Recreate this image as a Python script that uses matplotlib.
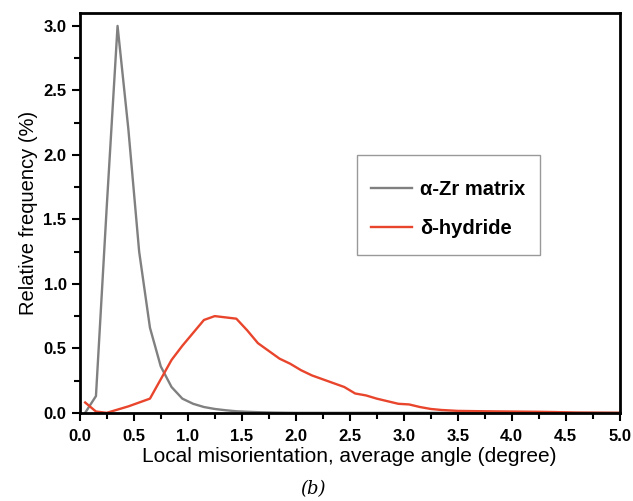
import matplotlib
matplotlib.use("Agg")
import matplotlib.pyplot as plt
from matplotlib.ticker import MultipleLocator
from matplotlib.patches import Rectangle

plt.rcParams['font.family'] = ['Liberation Sans', 'DejaVu Sans']

# alpha-Zr matrix
zr_x = [0.05, 0.15, 0.25, 0.35, 0.45, 0.55, 0.65, 0.75, 0.85, 0.95, 1.05, 1.15,
        1.25, 1.35, 1.45, 1.55, 1.65, 1.8, 2.0, 2.5, 3.0, 4.0, 5.0]
zr_y = [0.0, 0.13, 1.6, 3.0, 2.2, 1.25, 0.66, 0.36, 0.2, 0.11, 0.07, 0.045,
        0.03, 0.02, 0.012, 0.008, 0.005, 0.002, 0.0, 0.0, 0.0, 0.0, 0.0]

# delta-hydride
hy_x = [0.05, 0.15, 0.25, 0.45, 0.65, 0.75, 0.85, 0.95, 1.05, 1.15, 1.25, 1.35,
        1.45, 1.55, 1.65, 1.75, 1.85, 1.95, 2.05, 2.15, 2.25, 2.35, 2.45, 2.55,
        2.65, 2.75, 2.85, 2.95, 3.05, 3.15, 3.25, 3.35, 3.5, 3.75, 4.0, 4.25,
        4.4, 4.6, 5.0]
hy_y = [0.08, 0.01, 0.0, 0.05, 0.11, 0.26, 0.41, 0.52, 0.62, 0.72, 0.75, 0.74,
        0.73, 0.64, 0.54, 0.48, 0.42, 0.38, 0.33, 0.29, 0.26, 0.23, 0.2, 0.15,
        0.135, 0.11, 0.09, 0.07, 0.065, 0.045, 0.03, 0.022, 0.015, 0.012, 0.01,
        0.008, 0.006, 0.002, 0.0]

fig = plt.figure(figsize=(6.33, 5.01), dpi=100)
ax = fig.add_axes([0.126, 0.176, 0.853, 0.798])

ax.plot(zr_x, zr_y, color='#808080', lw=1.7, label='α-Zr matrix')
ax.plot(hy_x, hy_y, color='#e8452c', lw=1.7, label='δ-hydride')

ax.set_xlim(0, 5.0)
ax.set_ylim(0, 3.1)
ax.xaxis.set_major_locator(MultipleLocator(0.5))
ax.xaxis.set_minor_locator(MultipleLocator(0.25))
ax.yaxis.set_major_locator(MultipleLocator(0.5))
ax.yaxis.set_minor_locator(MultipleLocator(0.25))
ax.tick_params(which='major', direction='out', length=6, width=1.5, labelsize=12)
ax.tick_params(axis='x', which='major', pad=6)
ax.tick_params(which='minor', direction='out', length=4, width=1.5)
for lab in ax.get_xticklabels() + ax.get_yticklabels():
    lab.set_fontweight('bold')
for s in ax.spines.values():
    s.set_linewidth(2)

ax.set_xlabel('Local misorientation, average angle (degree)', fontsize=15, labelpad=2)
ax.set_ylabel('Relative frequency (%)', fontsize=14.5, labelpad=4)

# legend box drawn separately (taller than the legend padding gives)
ax.add_patch(Rectangle((0.513, 0.395), 0.339, 0.25, transform=ax.transAxes,
                       facecolor='white', edgecolor='#999999', lw=1, zorder=4))
leg = ax.legend(loc='center', bbox_to_anchor=(0.6825, 0.509),
                prop={'weight': 'bold', 'size': 14.5}, frameon=False,
                handlelength=2.0, handletextpad=0.4, borderpad=0,
                labelspacing=1.0, borderaxespad=0)
leg.set_zorder(5)

fig.text(0.494, 0.006, '(b)', fontsize=13, style='italic', family='DejaVu Serif',
         ha='center', va='bottom')

fig.savefig('out.png', dpi=100)
